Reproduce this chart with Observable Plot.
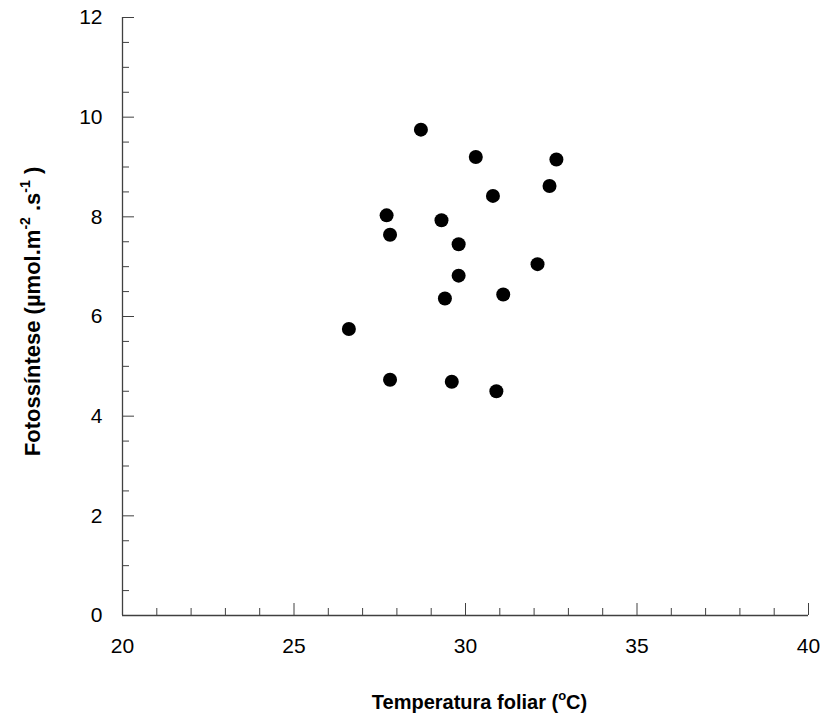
<!DOCTYPE html>
<html>
<head>
<meta charset="utf-8">
<script src="https://cdn.jsdelivr.net/npm/d3@7"></script>
<script src="https://cdn.jsdelivr.net/npm/@observablehq/plot@0.6"></script>
<style>
  html, body { margin: 0; padding: 0; background: #fff; }
  svg { display: block; }
</style>
</head>
<body>
<div id="chart"></div>
<script>
const temperature = [26.6, 28.7, 30.3, 32.65, 32.45, 30.8, 27.7, 29.3, 27.8, 29.8, 32.1, 29.8, 29.4, 31.1, 27.8, 29.6, 30.9];
const photosynthesis = [5.75, 9.75, 9.2, 9.15, 8.62, 8.42, 8.03, 7.93, 7.64, 7.45, 7.05, 6.82, 6.36, 6.44, 4.73, 4.69, 4.5];
const xMajorTicks = [20, 25, 30, 35, 40];
const xMinorTicks = [21, 22, 23, 24, 26, 27, 28, 29, 31, 32, 33, 34, 36, 37, 38, 39];
const yMajorTicks = [0, 2, 4, 6, 8, 10, 12];
const yMinorTicks = [0.5, 1, 1.5, 2.5, 3, 3.5, 4.5, 5, 5.5, 6.5, 7, 7.5, 8.5, 9, 9.5, 10.5, 11, 11.5];
const xTitle = "Temperatura foliar (oC)";
const yTitle = "Fotossíntese (µmol.m-2.s-1)";

const points = temperature.map((t, i) => ({t, p: photosynthesis[i]}));
const font = "'Liberation Sans', Arial, sans-serif";
const axisColor = "#404040";

const chart = Plot.plot({
  width: 828,
  height: 717,
  marginLeft: 122,
  marginRight: 20,
  marginTop: 17,
  marginBottom: 102,
  style: {fontFamily: font, fontSize: "21px", color: "#000", background: "#fff"},
  x: {domain: [20, 40]},
  y: {domain: [0, 12]},
  marks: [
    Plot.axisX({ticks: xMajorTicks, tickSize: -12, tickPadding: 35, stroke: axisColor, fill: "#000", label: null, fontSize: 21, tickFormat: d => String(d)}),
    Plot.axisX({ticks: xMinorTicks, tickSize: -7, text: null, stroke: axisColor, label: null}),
    Plot.axisY({ticks: yMajorTicks, tickSize: -12, tickPadding: 32, stroke: axisColor, fill: "#000", label: null, fontSize: 21, tickFormat: d => String(d)}),
    Plot.axisY({ticks: yMinorTicks, tickSize: -7, text: null, stroke: axisColor, label: null}),
    Plot.ruleX([20], {stroke: axisColor, strokeWidth: 1.3}),
    Plot.ruleY([0], {stroke: axisColor, strokeWidth: 1.3}),
    Plot.dot(points, {x: "t", y: "p", r: 7, fill: "#000", stroke: "none"}),
    Plot.text([xTitle], {frameAnchor: "bottom", dx: 14, dy: 93, textAnchor: "middle", fontWeight: "bold", fontSize: 20, fill: "#000"}),
    Plot.text([yTitle], {frameAnchor: "left", dx: -90, dy: -5, rotate: -90, textAnchor: "middle", fontWeight: "bold", fontSize: 22, fill: "#000"})
  ]
});

document.getElementById("chart").appendChild(chart);

function superscriptify(textEl, parts, supSize, shiftPx) {
  const sel = d3.select(textEl);
  sel.text(null);
  let shift = 0;
  parts.forEach(([s, sup]) => {
    const ts = sel.append("tspan").text(s);
    if (sup) {
      ts.attr("dy", -shiftPx - shift).attr("font-size", supSize + "px");
      shift = -shiftPx;
    } else {
      ts.attr("dy", -shift);
      shift = 0;
    }
  });
}
d3.select(chart).selectAll("text").each(function() {
  const t = this.textContent;
  if (t === xTitle) {
    superscriptify(this, [["Temperatura foliar (", false], ["o", true], ["C)", false]], 13, 9);
  } else if (t === yTitle) {
    superscriptify(this, [["Fotossíntese (µmol.m", false], ["-2", true], [" .s", false], ["-1", true], [" )", false]], 14, 10);
  }
});
</script>
</body>
</html>
